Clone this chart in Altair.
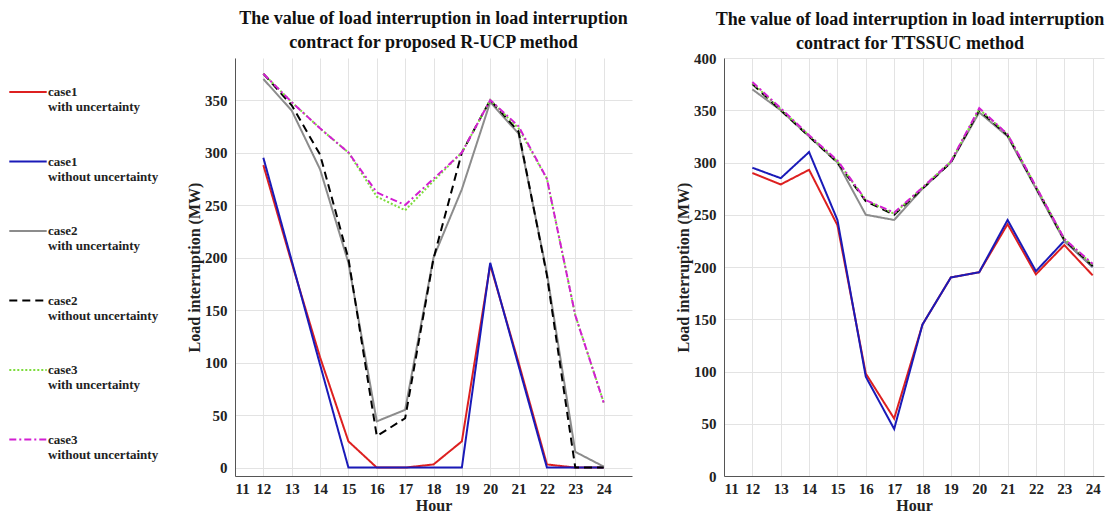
import altair as alt
import pandas as pd

hours = list(range(12, 25))

series_names = [
    "case1|with uncertainty",
    "case1|without uncertainty",
    "case2|with uncertainty",
    "case2|without uncertainty",
    "case3|with uncertainty",
    "case3|without uncertainty",
]

# Left panel: proposed R-UCP method
rucp_case1_with = [288, 195, 105, 25, 0, 0, 3, 25, 193, 100, 3, 0, 0]
rucp_case1_without = [295, 197, 98, 0, 0, 0, 0, 0, 195, 97, 0, 0, 0]
rucp_case2_with = [370, 340, 284, 195, 44, 55, 200, 265, 348, 318, 185, 15, 1]
rucp_case2_without = [375, 345, 298, 199, 30, 47, 199, 300, 350, 320, 183, 0, 0]
rucp_case3_with = [375, 348, 323, 300, 258, 245, 273, 300, 350, 323, 275, 145, 62]
rucp_case3_without = [375, 348, 323, 300, 262, 250, 275, 300, 350, 325, 275, 145, 62]

# Right panel: TTSSUC method
tts_case1_with = [290, 279, 293, 240, 98, 55, 145, 190, 195, 241, 193, 221, 192]
tts_case1_without = [295, 285, 310, 245, 95, 45, 145, 190, 195, 245, 196, 225, 200]
tts_case2_with = [370, 350, 325, 300, 250, 245, 275, 300, 348, 325, 275, 225, 200]
tts_case2_without = [375, 350, 325, 300, 263, 250, 275, 300, 350, 326, 276, 226, 201]
tts_case3_with = [376, 351, 326, 301, 264, 251, 276, 301, 351, 327, 277, 227, 202]
tts_case3_without = [377, 352, 326, 302, 264, 252, 276, 301, 352, 327, 277, 227, 203]

x_ticks = list(range(11, 25))
left_y_ticks = list(range(0, 351, 50))
right_y_ticks = list(range(0, 401, 50))

colors = ["#dd2020", "#1a1ab8", "#8c8c8c", "#000000", "#7ddc3c", "#d21fd2"]
dashes = [[1, 0], [1, 0], [1, 0], [8, 5], [2, 2], [7, 3, 2, 3]]


def long_frame(lists):
    rows = []
    for order, (name, vals) in enumerate(zip(series_names, lists)):
        for h, v in zip(hours, vals):
            rows.append({"hour": h, "value": v, "series": name, "order": order})
    return pd.DataFrame(rows)


left_df = long_frame([rucp_case1_with, rucp_case1_without, rucp_case2_with,
                      rucp_case2_without, rucp_case3_with, rucp_case3_without])
right_df = long_frame([tts_case1_with, tts_case1_without, tts_case2_with,
                       tts_case2_without, tts_case3_with, tts_case3_without])

FONT = "Liberation Serif"

color_enc = alt.Color(
    "series:N",
    scale=alt.Scale(domain=series_names, range=colors),
    legend=alt.Legend(
        title=" ",
        titleFontSize=10,
        titlePadding=4,
        orient="left",
        symbolType="stroke",
        symbolSize=1400,
        symbolStrokeWidth=2.2,
        labelExpr="split(datum.label, '|')",
        labelFont=FONT,
        labelFontSize=13,
        labelFontWeight="bold",
        labelColor="#222",
        rowPadding=27.5,
        labelLimit=200,
        labelOffset=0,
        offset=27,
        padding=0,
    ),
)
dash_enc = alt.StrokeDash(
    "series:N",
    scale=alt.Scale(domain=series_names, range=dashes),
    legend=None,
)


def panel(df, title, ydomain, yticks, width, xmax, dx, dy):
    return alt.Chart(df).mark_line(strokeWidth=2, clip=True).encode(
        x=alt.X("hour:Q",
                scale=alt.Scale(domain=[11, xmax], nice=False, zero=False),
                axis=alt.Axis(values=x_ticks, title="Hour", format="d")),
        y=alt.Y("value:Q",
                scale=alt.Scale(domain=ydomain, nice=False, zero=False),
                axis=alt.Axis(values=yticks,
                              title="Load interruption (MW)")),
        color=color_enc,
        strokeDash=dash_enc,
        order=alt.Order("order:Q"),
        detail="series:N",
    ).properties(
        width=width,
        height=418,
        title=alt.TitleParams(title, dx=dx, dy=dy),
    )


left = panel(left_df,
             ["The value of load interruption in load interruption",
              "contract for proposed R-UCP method"],
             [-8, 390], left_y_ticks, 397, 25, 0, 0)
right = panel(right_df,
              ["The value of load interruption in load interruption",
               "contract for TTSSUC method"],
              [0, 400], right_y_ticks, 380, 24.4, -4, 8)

chart = alt.hconcat(left, right, spacing=43).resolve_scale(
    color="shared", strokeDash="shared"
).properties(
    padding={"left": 0, "top": 2, "right": 0, "bottom": 0}
).configure(
    background="white"
).configure_view(
    stroke=None
).configure_axis(
    labelFont=FONT,
    labelFontSize=15,
    labelFontWeight="bold",
    labelColor="#222",
    titleFont=FONT,
    titleFontSize=16,
    titleFontWeight="bold",
    titleColor="#222",
    gridColor="#e3e3e3",
    gridWidth=1,
    domainColor="#555",
    ticks=False,
    labelPadding=8,
).configure_axisX(
    titlePadding=1,
    labelPadding=5,
).configure_axisY(
    titlePadding=2,
).configure_title(
    font=FONT,
    fontSize=18,
    fontWeight="bold",
    color="#111",
    anchor="middle",
    lineHeight=24,
    offset=6,
)

chart.save("out.html", embed_options={"renderer": "svg", "actions": False})
